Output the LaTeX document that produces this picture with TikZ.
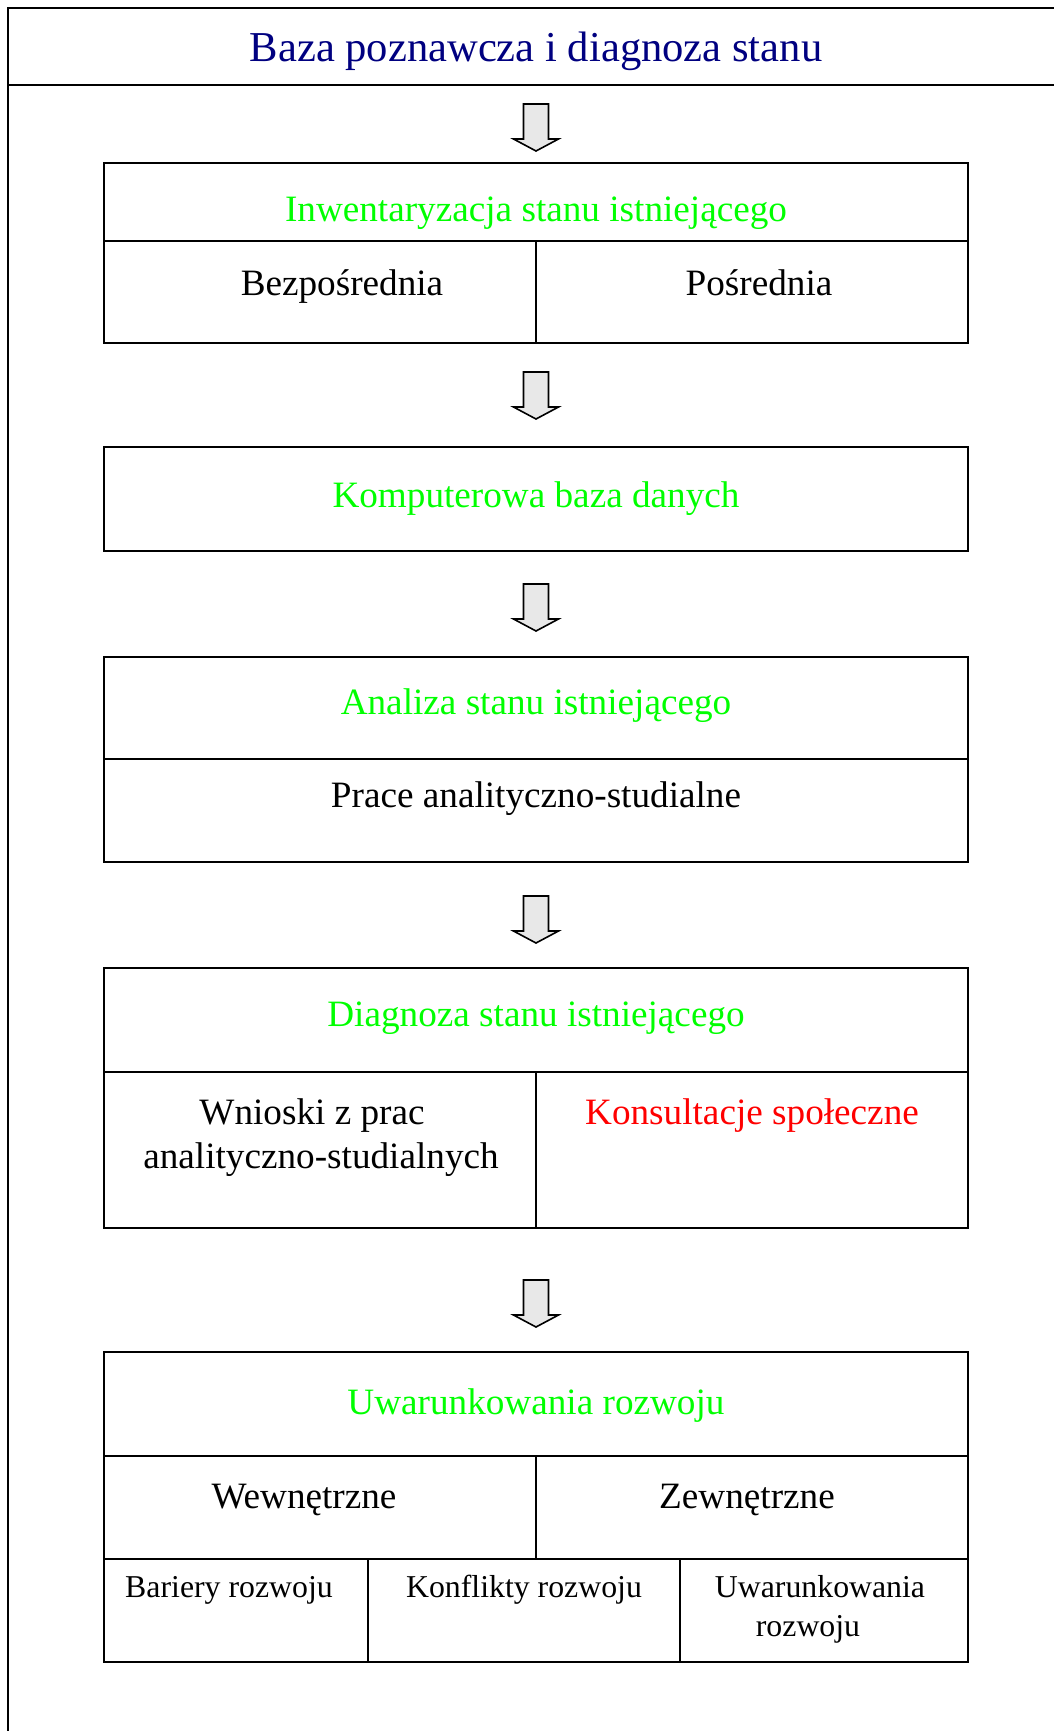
\documentclass[tikz,border=0pt]{standalone}
\usepackage{fontspec}
\setmainfont{Liberation Serif}
\usetikzlibrary{fit}
\definecolor{navyt}{RGB}{0,0,128}
\definecolor{greent}{RGB}{0,255,0}
\definecolor{redt}{RGB}{255,0,0}
\definecolor{arrgray}{RGB}{232,232,232}
\begin{document}
\begin{tikzpicture}[x=0.5pt,y=-0.5pt,
  box/.style={draw,line width=0.8pt,inner sep=0pt},
  divline/.style={line width=0.8pt},
  frameline/.style={line width=1.3pt},
  titletxt/.style={anchor=base,inner sep=0pt,text=navyt,font=\fontsize{21.3}{25}\selectfont},
  headtxt/.style={anchor=base,inner sep=0pt,text=greent,font=\fontsize{18.6}{22}\selectfont},
  bodytxt/.style={anchor=base,inner sep=0pt,font=\fontsize{18.6}{22}\selectfont},
  smalltxt/.style={anchor=base,inner sep=0pt,font=\fontsize{15.9}{19.5}\selectfont},
  blockarr/.pic={\draw[fill=arrgray,line width=0.8pt,line join=miter]
     (-12.5,0)--(12.5,0)--(12.5,35)--(22.5,35)--(0,47)--(-22.5,35)--(-12.5,35)--cycle;}]
\useasboundingbox (0,0) rectangle (1054,1731);

% outer frame
\coordinate (ftl) at (8,8);
\coordinate (ftr) at (1060,8);
\coordinate (fbl) at (8,1740);
\coordinate (hl) at (8,85);
\coordinate (hr) at (1060,85);
\draw[frameline] (ftr) -- (ftl) -- (fbl);
\draw[frameline] (hl) -- (hr);
\node[titletxt] (title) at (536,61) {Baza poznawcza i diagnoza stanu};

% box 1
\node[box,fit={(104,163) (968,343)}] (b1) {};
\draw[divline] (104,241) -- (968,241);
\draw[divline] (536,241) -- (b1.south);
\node[headtxt] (t1) at (536,221) {Inwentaryzacja stanu istniejącego};
\node[bodytxt] (t1a) at (342,295) {Bezpośrednia};
\node[bodytxt] (t1b) at (759,295) {Pośrednia};

% box 2
\node[box,fit={(104,447) (968,551)}] (b2) {};
\node[headtxt] (t2) at (536,507) {Komputerowa baza danych};

% box 3
\node[box,fit={(104,657) (968,862)}] (b3) {};
\draw[divline] (104,759) -- (968,759);
\node[headtxt] (t3) at (536,714) {Analiza stanu istniejącego};
\node[bodytxt] (t3a) at (536,807) {Prace analityczno-studialne};

% box 4
\node[box,fit={(104,968) (968,1228)}] (b4) {};
\draw[divline] (104,1072) -- (968,1072);
\draw[divline] (536,1072) -- (b4.south);
\node[headtxt] (t4) at (536,1026) {Diagnoza stanu istniejącego};
\node[bodytxt] (t4a) at (321,1124) {\begin{tabular}[t]{@{}c@{}}Wnioski z prac\hspace*{9pt}\\analityczno-studialnych\end{tabular}};
\node[bodytxt,text=redt] (t4b) at (752,1124) {Konsultacje społeczne};

% box 5
\node[box,fit={(104,1352) (968,1662)}] (b5) {};
\draw[divline] (104,1456) -- (968,1456);
\draw[divline] (104,1559) -- (968,1559);
\draw[divline] (536,1456) -- (536,1559);
\draw[divline] (368,1559) -- (368,1662);
\draw[divline] (680,1559) -- (680,1662);
\node[headtxt] (t5) at (536,1414) {Uwarunkowania rozwoju};
\node[bodytxt] (t5a) at (304,1508) {Wewnętrzne};
\node[bodytxt] (t5b) at (747,1508) {Zewnętrzne};
\node[smalltxt] (t5c) at (229,1597) {Bariery rozwoju};
\node[smalltxt] (t5d) at (524,1597) {Konflikty rozwoju};
\node[smalltxt] (t5e) at (820,1597) {\begin{tabular}[t]{@{}c@{}}Uwarunkowania\\rozwoju\hspace*{12pt}\end{tabular}};

% block arrows
\coordinate (a1) at (536,104);
\coordinate (a2) at (536,372);
\coordinate (a3) at (536,584);
\coordinate (a4) at (536,896);
\coordinate (a5) at (536,1280);
\pic at (a1) {blockarr};
\pic at (a2) {blockarr};
\pic at (a3) {blockarr};
\pic at (a4) {blockarr};
\pic at (a5) {blockarr};
\end{tikzpicture}
\end{document}
